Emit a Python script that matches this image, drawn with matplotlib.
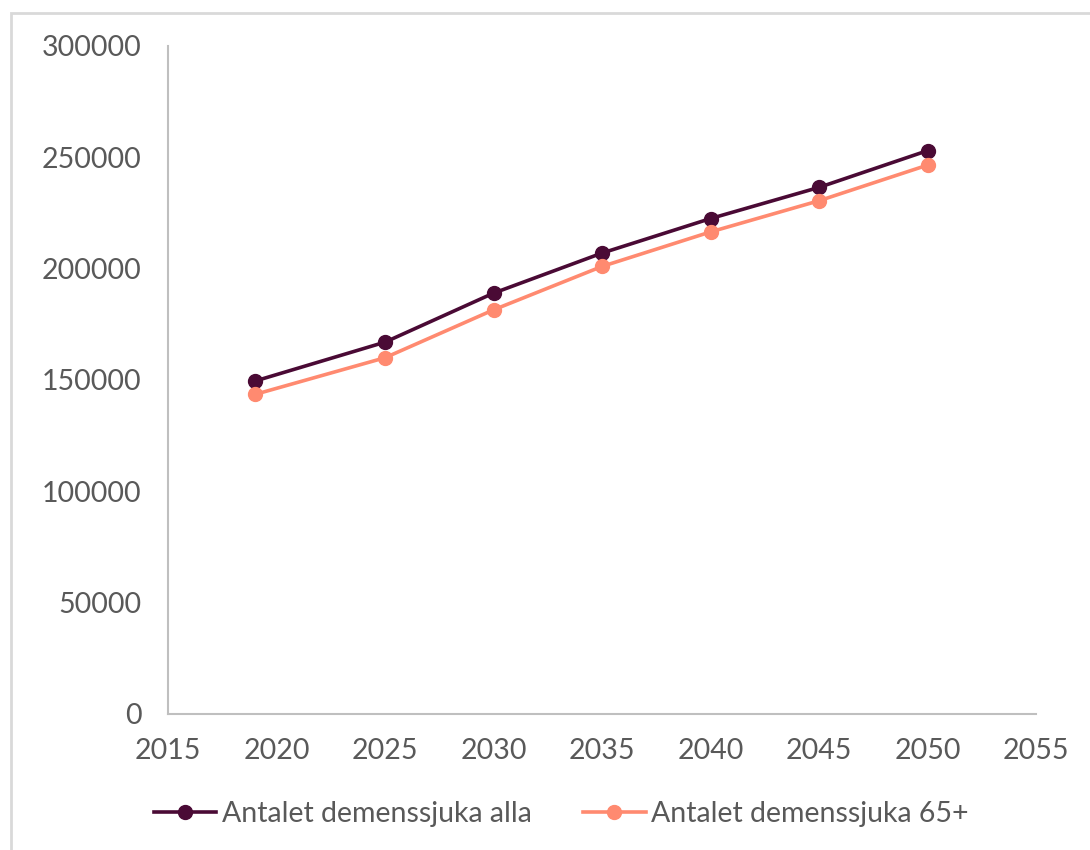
import matplotlib.pyplot as plt
from matplotlib.patches import Rectangle

# data
years = [2019, 2025, 2030, 2035, 2040, 2045, 2050]
alla = [149500, 167000, 189000, 207000, 222500, 236500, 253000]
over65 = [143500, 160000, 181500, 201000, 216500, 230500, 246500]
labels = ['Antalet demenssjuka alla', 'Antalet demenssjuka 65+']

plt.rcParams['font.family'] = ['Lato', 'DejaVu Sans']
txt = '#595959'
c_alla = '#4a0a35'
c_65 = '#ff8a70'

fig = plt.figure(figsize=(10.9, 8.5), dpi=100)
ax = fig.add_axes([168 / 1090, 1 - 714 / 850, (1036 - 168) / 1090, (714 - 46) / 850])

ax.plot(years, alla, color=c_alla, lw=2.6, marker='o', ms=10, label=labels[0])
ax.plot(years, over65, color=c_65, lw=2.6, marker='o', ms=10, label=labels[1])

ax.set_xlim(2015, 2055)
ax.set_ylim(0, 300000)
ax.set_xticks(range(2015, 2056, 5))
ax.set_yticks(range(0, 300001, 50000))
ax.tick_params(length=0, labelsize=20.5, colors=txt)
ax.tick_params(axis='y', pad=19)
ax.tick_params(axis='x', pad=17)
for s in ['top', 'right']:
    ax.spines[s].set_visible(False)
for s in ['left', 'bottom']:
    ax.spines[s].set_color('#bfbfbf')
    ax.spines[s].set_linewidth(1.5)

leg = ax.legend(loc='center', bbox_to_anchor=(0.453, -0.15), ncol=2, frameon=False,
                fontsize=20.5, handlelength=2.2, handletextpad=0.2, columnspacing=1.8)
for t in leg.get_texts():
    t.set_color(txt)

# light frame round the chart
fig.patches.append(Rectangle((11 / 1090, -0.05), 1.2, 1 - 13 / 850 + 0.05,
                             transform=fig.transFigure, fill=False,
                             edgecolor='#d9d9d9', lw=2))

fig.savefig('out.png', dpi=100)
